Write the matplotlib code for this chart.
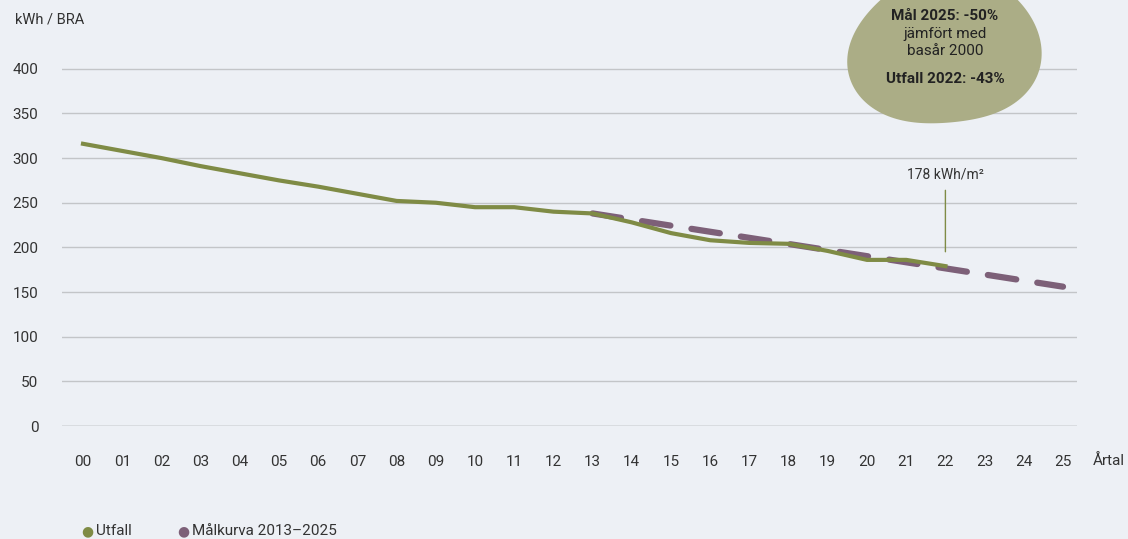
import numpy as np
from matplotlib import pyplot as plt
from matplotlib.patches import Polygon

years = list(range(0, 26))
year_labels = ["%02d" % y for y in years]

utfall_years = list(range(0, 23))
utfall = [316, 308, 300, 291, 283, 275, 268, 260, 252, 250, 245, 245,
          240, 238, 228, 216, 208, 205, 204, 196, 186, 186, 179]

mal_years = [13, 25]
mal = [238, 156]

y_ticks = [0, 50, 100, 150, 200, 250, 300, 350, 400]

green = '#7f8b45'
purple = '#7d6078'
bg = '#edf0f5'
blob_col = '#abad86'
txt = '#333333'

plt.rcParams['font.family'] = ['Roboto', 'DejaVu Sans']

fig = plt.figure(figsize=(11.28, 5.39), dpi=100, facecolor=bg)
ax = fig.add_axes([62/1128, 1 - 426/539, (1077-62)/1128, 426/539])
ax.set_facecolor(bg)

ax.plot(mal_years, mal, color=purple, lw=4.5, dashes=(4.6, 3.4),
        solid_capstyle='round', dash_capstyle='round', zorder=3)
ax.plot(utfall_years, utfall, color=green, lw=3, solid_joinstyle='round', zorder=4)

ax.set_xlim(-0.536, 25.357)
ax.set_ylim(0, 477)

for v in y_ticks[1:]:
    ax.axhline(v, color='#c3c5c8', lw=1, zorder=1)
ax.axhline(0, color='#8c8c8c', lw=1, zorder=1)

for s in ax.spines.values():
    s.set_visible(False)
ax.set_xticks(years)
ax.set_xticklabels(year_labels)
ax.set_yticks(y_ticks)
ax.tick_params(length=0, labelsize=11, colors=txt)
ax.tick_params(axis='x', pad=21)
ax.tick_params(axis='y', pad=17)

fig.text(15/1128, 1 - 20/539, 'kWh / BRA', fontsize=10.5, color=txt, va='center')
fig.text(1093/1128, 1 - 461/539, 'Årtal', fontsize=11, color=txt, va='center')

# annotation for last value
ax.annotate('', xy=(22, 192), xytext=(22, 267),
            arrowprops=dict(arrowstyle='-', color=green, lw=1))
ax.text(22, 282, '178 kWh/m²', ha='center', va='center', fontsize=10, color=txt)

# blob
t = np.linspace(0, 2*np.pi, 200)
r = 1 + 0.06*np.cos(2*t + 0.6) + 0.04*np.sin(3*t)
bx = (945 + 92*r*np.cos(t)) / 1128
by = 1 - (50 + 80*r*np.sin(t)) / 539
fig.patches.append(Polygon(np.column_stack([bx, by]), closed=True,
                           transform=fig.transFigure, facecolor=blob_col,
                           edgecolor='none', zorder=0))

fig.text(945/1128, 1 - 16/539, 'Mål 2025: -50%', ha='center', va='center',
         fontsize=11, fontweight='bold', color='#222222')
fig.text(945/1128, 1 - 34/539, 'jämfört med', ha='center', va='center',
         fontsize=11, color='#222222')
fig.text(945/1128, 1 - 51/539, 'basår 2000', ha='center', va='center',
         fontsize=11, color='#222222')
fig.text(945/1128, 1 - 79/539, 'Utfall 2022: -43%', ha='center', va='center',
         fontsize=11, fontweight='bold', color='#222222')

# legend
fig.text(87/1128, 1 - 531/539, '●', color=green, fontsize=10, ha='center', va='center')
fig.text(96/1128, 1 - 531/539, 'Utfall', color=txt, fontsize=11, va='center')
fig.text(183/1128, 1 - 531/539, '●', color=purple, fontsize=10, ha='center', va='center')
fig.text(192/1128, 1 - 531/539, 'Målkurva 2013–2025', color=txt, fontsize=11, va='center')

fig.savefig('out.png', dpi=100, facecolor=bg)
